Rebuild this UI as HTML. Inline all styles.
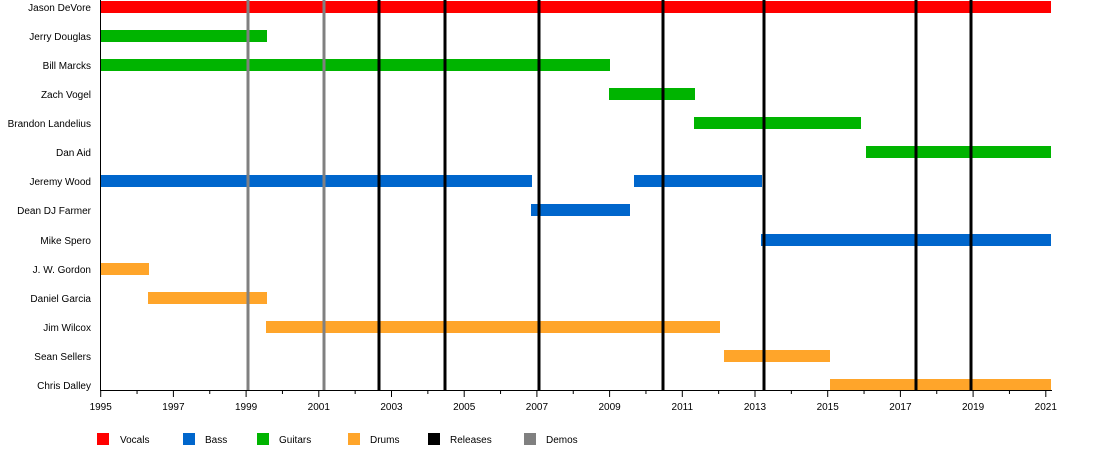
<!DOCTYPE html><html><head><style>body{margin:0;background:#fff}svg{display:block}text{font-family:"Liberation Sans",sans-serif;font-size:10px;fill:#000}</style></head><body>
<svg width="1100" height="450" xmlns="http://www.w3.org/2000/svg">
<g text-anchor="end">
<text x="91" y="11">Jason DeVore</text><text x="91" y="40">Jerry Douglas</text><text x="91" y="69">Bill Marcks</text><text x="91" y="98">Zach Vogel</text><text x="91" y="127">Brandon Landelius</text><text x="91" y="156">Dan Aid</text><text x="91" y="185">Jeremy Wood</text><text x="91" y="214">Dean DJ Farmer</text><text x="91" y="244">Mike Spero</text><text x="91" y="273">J. W. Gordon</text><text x="91" y="302">Daniel Garcia</text><text x="91" y="331">Jim Wilcox</text><text x="91" y="360">Sean Sellers</text><text x="91" y="389">Chris Dalley</text>
</g>
<g>
<rect x="101" y="1" width="950" height="12" fill="#ff0000"/>
<rect x="101" y="30" width="166" height="12" fill="#00b400"/>
<rect x="101" y="59" width="509" height="12" fill="#00b400"/>
<rect x="609" y="88" width="86" height="12" fill="#00b400"/>
<rect x="694" y="117" width="167" height="12" fill="#00b400"/>
<rect x="866" y="146" width="185" height="12" fill="#00b400"/>
<rect x="101" y="175" width="431" height="12" fill="#0066cc"/>
<rect x="634" y="175" width="128" height="12" fill="#0066cc"/>
<rect x="531" y="204" width="99" height="12" fill="#0066cc"/>
<rect x="761" y="234" width="290" height="12" fill="#0066cc"/>
<rect x="101" y="263" width="48" height="12" fill="#ffa52a"/>
<rect x="148" y="292" width="119" height="12" fill="#ffa52a"/>
<rect x="266" y="321" width="454" height="12" fill="#ffa52a"/>
<rect x="724" y="350" width="106" height="12" fill="#ffa52a"/>
<rect x="830" y="379" width="221" height="12" fill="#ffa52a"/>
</g>
<g stroke-width="3">
<line x1="248" y1="0" x2="248" y2="390" stroke="#808080"/>
<line x1="324" y1="0" x2="324" y2="390" stroke="#808080"/>
<line x1="379" y1="0" x2="379" y2="390" stroke="#000"/>
<line x1="445" y1="0" x2="445" y2="390" stroke="#000"/>
<line x1="539" y1="0" x2="539" y2="390" stroke="#000"/>
<line x1="663" y1="0" x2="663" y2="390" stroke="#000"/>
<line x1="764" y1="0" x2="764" y2="390" stroke="#000"/>
<line x1="916" y1="0" x2="916" y2="390" stroke="#000"/>
<line x1="971" y1="0" x2="971" y2="390" stroke="#000"/>
</g>
<line x1="100.5" y1="0" x2="100.5" y2="391" stroke="#000"/>
<line x1="100" y1="390.5" x2="1052" y2="390.5" stroke="#000"/>
<g id="ticks" stroke="#000"></g>
<g id="labs" text-anchor="middle"></g>
<g>
<rect x="97" y="433" width="12" height="12" fill="#ff0000"/><text x="120" y="443">Vocals</text>
<rect x="183" y="433" width="12" height="12" fill="#0066cc"/><text x="205" y="443">Bass</text>
<rect x="257" y="433" width="12" height="12" fill="#00b400"/><text x="279" y="443">Guitars</text>
<rect x="348" y="433" width="12" height="12" fill="#ffa52a"/><text x="370" y="443">Drums</text>
<rect x="428" y="433" width="12" height="12" fill="#000"/><text x="450" y="443">Releases</text>
<rect x="524" y="433" width="12" height="12" fill="#808080"/><text x="546" y="443">Demos</text>
</g>
<script>
var t=document.getElementById('ticks'),l=document.getElementById('labs'),ns='http://www.w3.org/2000/svg';
for(var y=1995;y<=2021;y++){var x=100.7+(y-1995)*36.35;var ln=document.createElementNS(ns,'line');ln.setAttribute('x1',x);ln.setAttribute('x2',x);ln.setAttribute('y1',391);ln.setAttribute('y2',(y%2)?397:394);t.appendChild(ln);
if(y%2){var tx=document.createElementNS(ns,'text');tx.setAttribute('x',x);tx.setAttribute('y',410);tx.textContent=y;l.appendChild(tx);}}
</script>
</svg></body></html>
